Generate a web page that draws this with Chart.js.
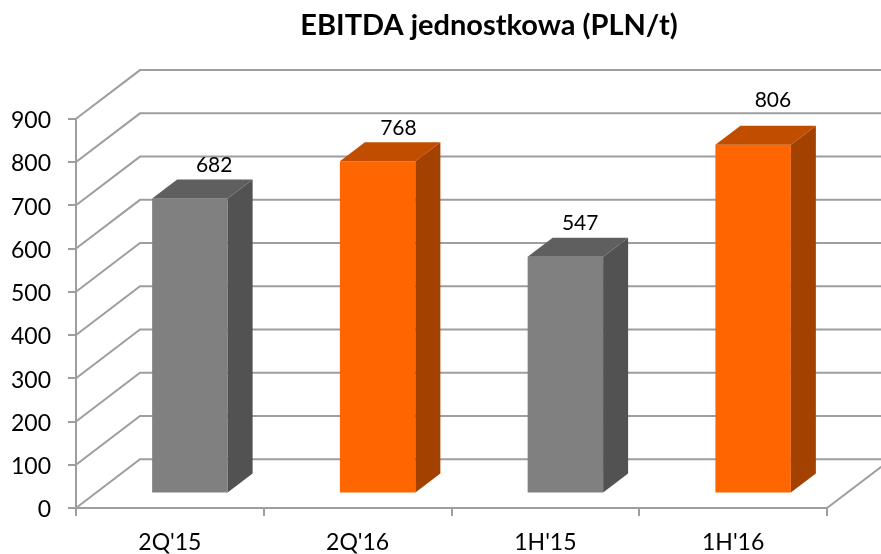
<!DOCTYPE html>
<html>
<head>
<meta charset="utf-8">
<style>html,body{margin:0;padding:0;background:#fff}canvas{display:block}</style>
<script src="https://cdn.jsdelivr.net/npm/chart.js@4/dist/chart.umd.min.js"></script>
</head>
<body>
<canvas id="c" width="881" height="554"></canvas>
<script>
const categories = ["2Q'15", "2Q'16", "1H'15", "1H'16"];
const values = [682, 768, 547, 806];
const titleText = "EBITDA jednostkowa (PLN/t)";
const frontColors = ["#808080", "#FF6600", "#808080", "#FF6600"];
const sideColors = ["#525252", "#A34100", "#525252", "#A34100"];
const topColors = ["#5F5F5F", "#C04D00", "#5F5F5F", "#C04D00"];
const labelDx = [24.3, 20.8, 14.8, 19.8];
const labelDy = [-14.5, -14.5, -14.5, -25.5];
const FONT = "Lato, 'Open Sans', sans-serif";
const GRID = "#9E9E9E";
const WALL = {dx: 64, dy: -48.7};
const BAR_SHIFT = {dx: 20, dy: -14.6};
const BAR_DEPTH = {dx: 25, dy: -19};

const box3d = {
  id: 'box3d',
  afterLayout(chart) {
    chart.titleBlock.left += 75.5;
    chart.titleBlock.right += 75.5;
  },
  beforeDraw(chart) {
    chart.scales.y.getLabelItems().forEach(item => {
      if (!item.options.shifted) {
        item.options.translation[1] += 2;
        item.options.shifted = true;
      }
    });
  },
  beforeDatasetsDraw(chart) {
    const {ctx, scales: {y}, chartArea: a, width} = chart;
    ctx.save();
    ctx.strokeStyle = GRID;
    ctx.lineWidth = 2;
    y.ticks.forEach(t => {
      const py = y.getPixelForValue(t.value);
      ctx.beginPath();
      ctx.moveTo(a.left, py);
      ctx.lineTo(a.left + WALL.dx, py + WALL.dy);
      ctx.lineTo(width, py + WALL.dy);
      ctx.stroke();
    });
    const py0 = y.getPixelForValue(0);
    ctx.beginPath();
    ctx.moveTo(a.right, py0);
    ctx.lineTo(a.right + WALL.dx, py0 + WALL.dy);
    ctx.stroke();
    ctx.restore();
  },
  beforeDatasetDraw(chart) {
    chart.ctx.save();
    chart.ctx.translate(BAR_SHIFT.dx, BAR_SHIFT.dy);
  },
  afterDatasetDraw(chart) {
    chart.ctx.restore();
  },
  afterDatasetsDraw(chart) {
    const {ctx} = chart;
    const meta = chart.getDatasetMeta(0);
    ctx.save();
    meta.data.forEach((el, i) => {
      const p = el.getProps(['x', 'y', 'base', 'width'], true);
      const l = p.x - p.width / 2 + BAR_SHIFT.dx;
      const r = p.x + p.width / 2 + BAR_SHIFT.dx;
      const t = p.y + BAR_SHIFT.dy;
      const b = p.base + BAR_SHIFT.dy;
      ctx.fillStyle = sideColors[i];
      ctx.beginPath();
      ctx.moveTo(r, t);
      ctx.lineTo(r + BAR_DEPTH.dx, t + BAR_DEPTH.dy);
      ctx.lineTo(r + BAR_DEPTH.dx, b + BAR_DEPTH.dy);
      ctx.lineTo(r, b);
      ctx.closePath();
      ctx.fill();
      ctx.fillStyle = topColors[i];
      ctx.beginPath();
      ctx.moveTo(l, t);
      ctx.lineTo(l + BAR_DEPTH.dx, t + BAR_DEPTH.dy);
      ctx.lineTo(r + BAR_DEPTH.dx, t + BAR_DEPTH.dy);
      ctx.lineTo(r, t);
      ctx.closePath();
      ctx.fill();
      ctx.fillStyle = '#000';
      ctx.font = '21px ' + FONT;
      ctx.textAlign = 'center';
      ctx.textBaseline = 'middle';
      ctx.fillText(String(values[i]), p.x + BAR_SHIFT.dx + labelDx[i], t + BAR_DEPTH.dy + labelDy[i]);
    });
    ctx.restore();
  }
};

new Chart(document.getElementById('c'), {
  type: 'bar',
  data: {
    labels: categories,
    datasets: [{
      data: values,
      backgroundColor: frontColors,
      borderWidth: 0,
      barPercentage: 0.402,
      categoryPercentage: 1
    }]
  },
  options: {
    responsive: false,
    animation: false,
    layout: {padding: {right: 54, top: 0, left: 0, bottom: 0}},
    plugins: {
      legend: {display: false},
      tooltip: {enabled: false},
      title: {
        display: true,
        text: titleText,
        color: '#000',
        font: {family: FONT, size: 29, weight: 'bold', lineHeight: 1.2},
        padding: {top: 8, bottom: 76}
      }
    },
    scales: {
      x: {
        grid: {drawOnChartArea: false, color: GRID, lineWidth: 2, tickLength: 8, offset: true},
        border: {color: GRID, width: 2},
        ticks: {color: '#000', font: {family: FONT, size: 23}, padding: 13, maxRotation: 0},
        afterFit(s) { s.height = 46; }
      },
      y: {
        min: 0,
        max: 900,
        grid: {drawOnChartArea: false, color: GRID, lineWidth: 2, tickLength: 8},
        border: {color: GRID, width: 2},
        ticks: {stepSize: 100, color: '#000', font: {family: FONT, size: 23}, padding: 17},
        afterFit(s) { s.width = 76; }
      }
    }
  },
  plugins: [box3d]
});
</script>
</body>
</html>
